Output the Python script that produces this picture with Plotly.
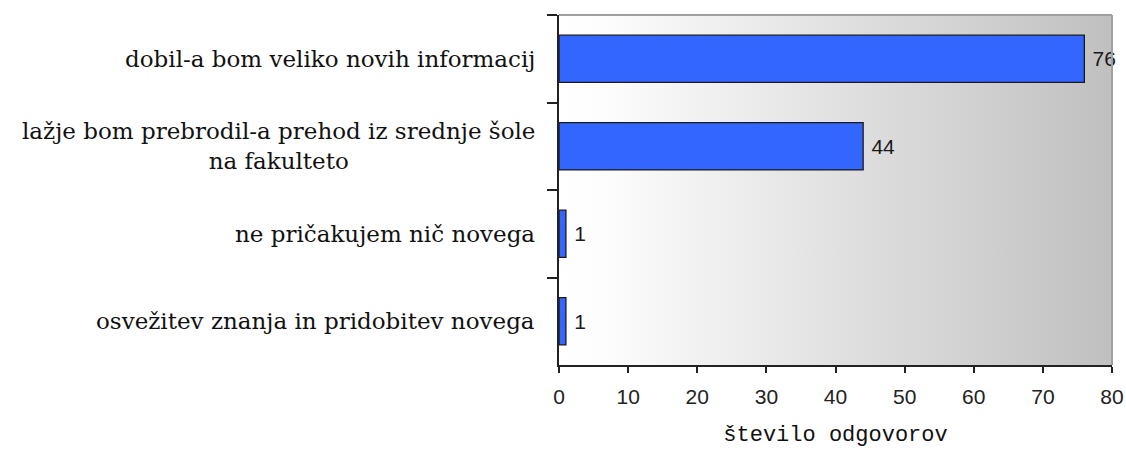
import base64
import plotly.graph_objects as go

# survey answers and counts
categories = [
    "dobil-a bom veliko novih informacij",
    "lažje bom prebrodil-a prehod iz srednje šole<br>na fakulteto",
    "ne pričakujem nič novega",
    "osvežitev znanja in pridobitev novega",
]
counts = [76, 44, 1, 1]
x_ticks = [0, 10, 20, 30, 40, 50, 60, 70, 80]
x_title = "število odgovorov"

# horizontal grey gradient used as plot background
grad_svg = (
    '<svg xmlns="http://www.w3.org/2000/svg" width="100" height="10" '
    'viewBox="0 0 100 10" preserveAspectRatio="none">'
    '<defs><linearGradient id="g" x1="0" x2="1" y1="0" y2="0">'
    '<stop offset="0" stop-color="#ffffff"/>'
    '<stop offset="0.08" stop-color="#fdfdfd"/>'
    '<stop offset="1" stop-color="#c0c0c0"/>'
    '</linearGradient></defs>'
    '<rect width="100" height="10" fill="url(#g)"/></svg>'
)
grad_src = "data:image/svg+xml;base64," + base64.b64encode(grad_svg.encode()).decode()

fig = go.Figure(go.Bar(
    x=counts,
    y=categories,
    orientation="h",
    width=0.54,
    marker=dict(color="#3366ff", line=dict(color="#1a1a1a", width=1.3)),
    text=counts,
    texttemplate="\u2005%{x}",
    textposition="outside",
    constraintext="none",
    cliponaxis=False,
    textfont=dict(family="Liberation Sans", size=21, color="#1a1a1a"),
    hoverinfo="skip",
))

# category labels as annotations so the two-line label is centred
for cat in categories:
    fig.add_annotation(
        x=0, xref="paper", xanchor="right", xshift=-22,
        y=cat, yref="y", yanchor="middle",
        text=cat, showarrow=False, align="center",
        font=dict(family="DejaVu Serif", size=23, color="#111111"),
    )

fig.add_layout_image(
    source=grad_src, xref="x domain", yref="y domain",
    x=0, y=1, sizex=1, sizey=1, xanchor="left", yanchor="top",
    sizing="stretch", layer="below",
)
fig.add_shape(type="line", xref="x domain", yref="y domain", x0=0, x1=1, y0=1, y1=1,
              line=dict(color="#a0a0a0", width=2))
fig.add_shape(type="line", xref="x domain", yref="y domain", x0=1, x1=1, y0=0, y1=1,
              line=dict(color="#a0a0a0", width=2))

fig.update_layout(
    width=1126, height=452,
    margin=dict(l=559, r=14, t=15, b=87, autoexpand=False),
    paper_bgcolor="white", plot_bgcolor="white",
    showlegend=False,
    bargap=0.46,
    xaxis=dict(
        range=[0, 80], tickvals=x_ticks, showgrid=False, zeroline=False,
        automargin=False,
        showline=True, linecolor="#222222", linewidth=2,
        ticks="outside", ticklen=6, tickcolor="#222222", tickwidth=1.5,
        ticklabelstandoff=6,
        tickfont=dict(family="Liberation Sans", size=21, color="#222222"),
        title=dict(text=x_title, standoff=18,
                   font=dict(family="Liberation Mono", size=22, color="#111111")),
    ),
    yaxis=dict(
        autorange="reversed", showgrid=False, zeroline=False,
        automargin=False,
        showline=True, linecolor="#222222", linewidth=2,
        ticks="outside", tickson="boundaries", ticklen=10,
        tickcolor="#222222", tickwidth=1.5, showticklabels=False,
    ),
)

fig.write_html(
    "out.html",
    config={"displayModeBar": False},
    post_script="document.body.style.margin='0';document.body.style.overflow='hidden';",
)
